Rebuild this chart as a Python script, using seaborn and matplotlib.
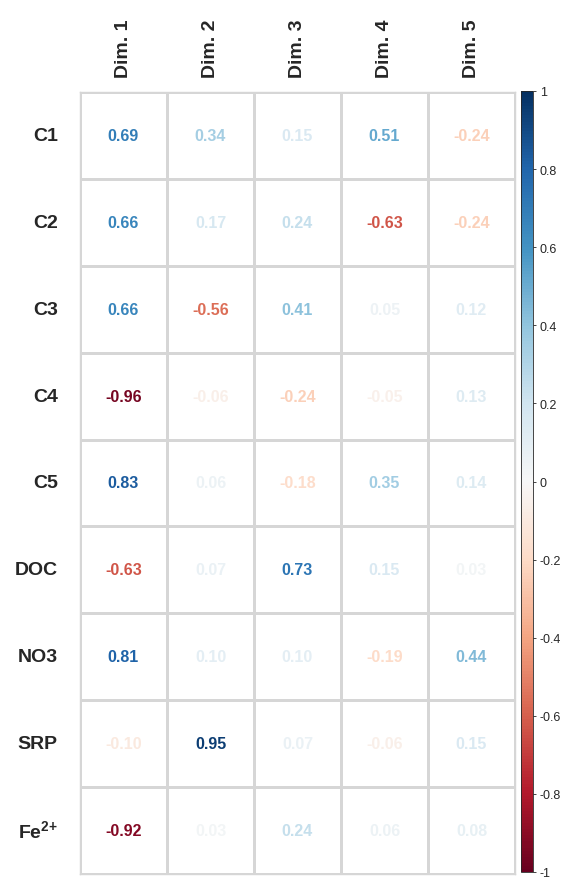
import numpy as np
import pandas as pd
import matplotlib
matplotlib.use("Agg")
import matplotlib.pyplot as plt
import seaborn as sns
from matplotlib.colors import ListedColormap, Normalize

# ==========================================
# Data
# ==========================================
variables = ["C1", "C2", "C3", "C4", "C5", "DOC", "NO3", "SRP",
             "Fe$^{\\mathbf{2{+}}}$"]
dims = ["Dim. 1", "Dim. 2", "Dim. 3", "Dim. 4", "Dim. 5"]

dim1 = [0.69, 0.66, 0.66, -0.96, 0.83, -0.63, 0.81, -0.10, -0.92]
dim2 = [0.34, 0.17, -0.56, -0.06, 0.06, 0.07, 0.10, 0.95, 0.03]
dim3 = [0.15, 0.24, 0.41, -0.24, -0.18, 0.73, 0.10, 0.07, 0.24]
dim4 = [0.51, -0.63, 0.05, -0.05, 0.35, 0.15, -0.19, -0.06, 0.06]
dim5 = [-0.24, -0.24, 0.12, 0.13, 0.14, 0.03, 0.44, 0.15, 0.08]

cbar_ticks = [-1, -0.8, -0.6, -0.4, -0.2, 0, 0.2, 0.4, 0.6, 0.8, 1]

df = pd.DataFrame({d: v for d, v in zip(dims, [dim1, dim2, dim3, dim4, dim5])},
                  index=variables)

# ==========================================
# Plot
# ==========================================
sns.set_style("white")
plt.rcParams["font.family"] = ["Liberation Sans", "DejaVu Sans"]
plt.rcParams["mathtext.fontset"] = "custom"
plt.rcParams["mathtext.rm"] = "Liberation Sans"
plt.rcParams["mathtext.bf"] = "Liberation Sans:bold"

W, H = 567, 879
fig = plt.figure(figsize=(W / 100, H / 100), dpi=100)
ax = fig.add_axes([80 / W, 1 - 875 / H, 435 / W, 782 / H])
cax = fig.add_axes([521 / W, 1 - 873 / H, 12 / W, 781 / H])

cmap = plt.get_cmap("RdBu")
norm = Normalize(vmin=-1, vmax=1)

sns.heatmap(df, ax=ax, cmap=ListedColormap(["white"]), cbar=False,
            annot=True, fmt=".2f", linewidths=1, linecolor="#d6d6d6",
            annot_kws={"fontsize": 11.5, "fontweight": "bold"})

# colour each number by its value, corrplot style
for txt, val in zip(ax.texts, df.values.ravel()):
    txt.set_color(cmap(norm(val)))

for s in ax.spines.values():
    s.set_visible(True)
    s.set_color("#d6d6d6")
    s.set_linewidth(1)

ax.xaxis.tick_top()
ax.set_xticklabels(dims, rotation=90, fontsize=14, fontweight="bold")
ax.set_yticklabels(variables, rotation=0, fontsize=14, fontweight="bold")
ax.tick_params(axis="y", length=0, pad=16)
ax.tick_params(axis="x", length=0, pad=11)
ax.set_xlabel("")
ax.set_ylabel("")

sm = matplotlib.cm.ScalarMappable(norm=norm, cmap=cmap)
cb = fig.colorbar(sm, cax=cax, ticks=cbar_ticks)
cb.ax.set_yticklabels([f"{t:g}" for t in cbar_ticks], fontsize=9)
cb.ax.tick_params(length=2, width=0.6, pad=3)
cb.outline.set_linewidth(0.6)

fig.savefig("out.png", dpi=100)
